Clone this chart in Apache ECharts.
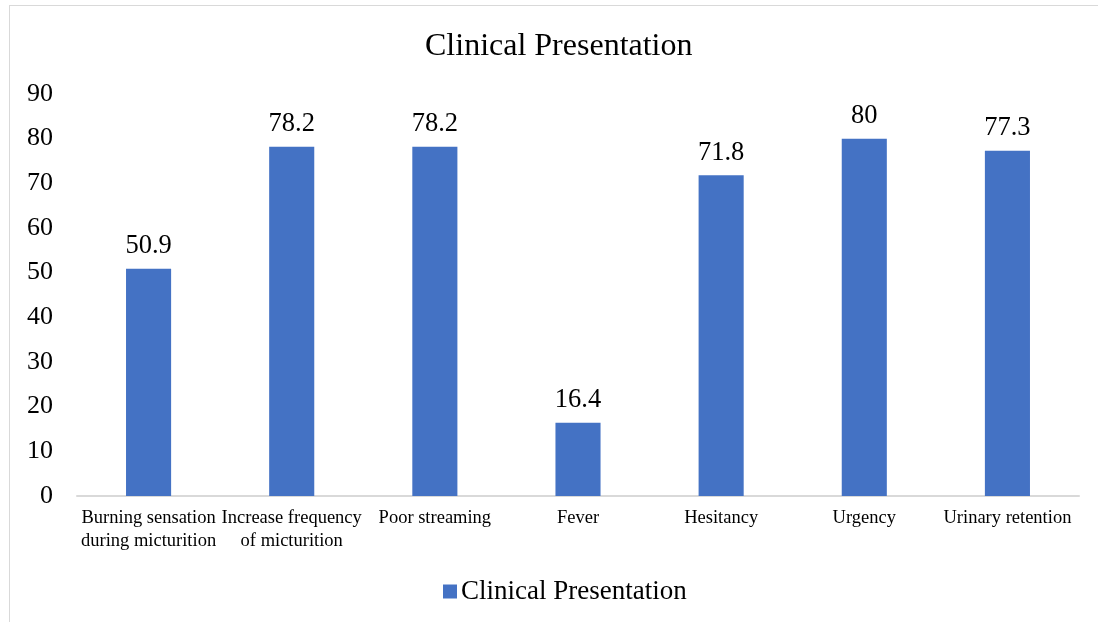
<!DOCTYPE html>
<html>
<head>
<meta charset="utf-8">
<script src="https://cdn.jsdelivr.net/npm/echarts@6/dist/echarts.min.js"></script>
<style>
  html, body { margin: 0; padding: 0; background: #fff; }
  #frame { position: absolute; left: 9px; top: 5px; width: 1200px; height: 700px; border: 1px solid #d9d9d9; box-sizing: border-box; }
  #chart { position: absolute; left: 0; top: 0; width: 1098px; height: 622px; }
</style>
</head>
<body>
<div id="frame"></div>
<div id="chart"></div>
<script>
// Clinical presentation frequencies (%)
const categories = [
  'Burning sensation\nduring micturition',
  'Increase frequency\nof micturition',
  'Poor streaming',
  'Fever',
  'Hesitancy',
  'Urgency',
  'Urinary retention'
];
const values = [50.9, 78.2, 78.2, 16.4, 71.8, 80, 77.3];
const seriesName = 'Clinical Presentation';

const serif = '"Liberation Serif", "Times New Roman", serif';
const chart = echarts.init(document.getElementById('chart'));
chart.setOption({
  animation: false,
  backgroundColor: 'transparent',
  title: {
    text: 'Clinical Presentation',
    left: 425,
    top: 31,
    padding: 0,
    textStyle: { fontFamily: serif, fontSize: 32, fontWeight: 'normal', color: '#000' }
  },
  legend: {
    bottom: 12,
    left: 438,
    itemWidth: 14,
    itemHeight: 14,
    itemGap: 6,
    icon: 'rect',
    textStyle: { fontFamily: serif, fontSize: 27, color: '#000', padding: [0, 0, 0, -1] },
    data: [seriesName]
  },
  grid: { left: 77, right: 19, top: 94, bottom: 126, containLabel: false },
  xAxis: {
    type: 'category',
    data: categories,
    axisLine: { lineStyle: { color: '#d9d9d9', width: 2 } },
    axisTick: { show: false },
    axisLabel: {
      interval: 0,
      margin: 11,
      fontFamily: serif,
      fontSize: 18.5,
      lineHeight: 23,
      color: '#000'
    }
  },
  yAxis: {
    type: 'value',
    min: 0,
    max: 90,
    interval: 10,
    splitLine: { show: false },
    axisLine: { show: false },
    axisTick: { show: false },
    axisLabel: { margin: 24, fontFamily: serif, fontSize: 26, color: '#000' }
  },
  series: [{
    name: seriesName,
    type: 'bar',
    data: values,
    barWidth: '31.5%',
    itemStyle: { color: '#4472C4' },
    label: {
      show: true,
      position: 'top',
      distance: 9,
      fontFamily: serif,
      fontSize: 26.5,
      color: '#000'
    }
  }]
});
</script>
</body>
</html>
